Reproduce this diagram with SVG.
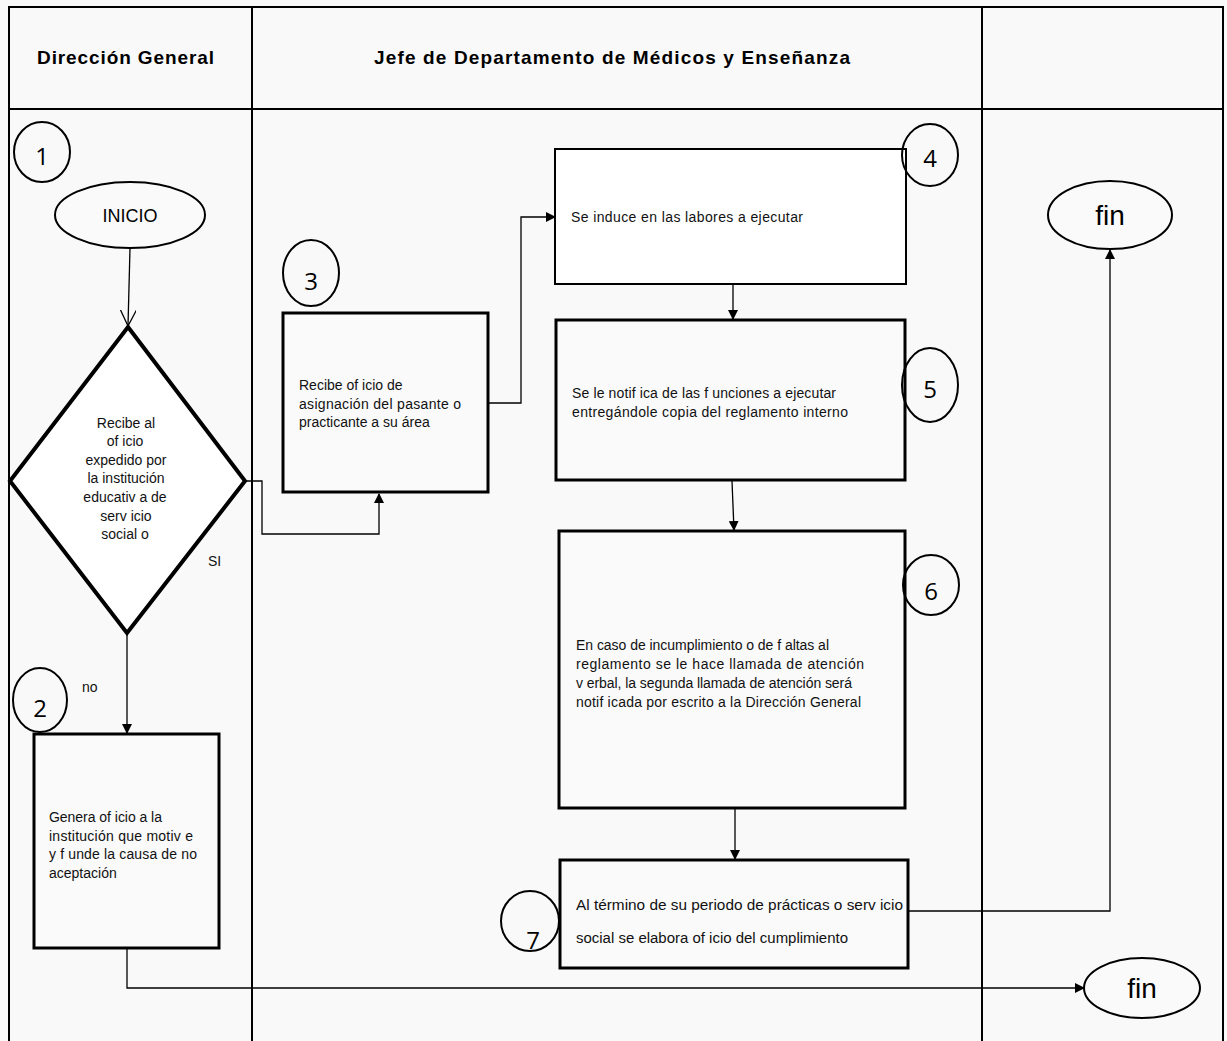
<svg xmlns="http://www.w3.org/2000/svg" width="1227" height="1041" viewBox="0 0 1227 1041">
<style>
.frame{fill:none;stroke:#000;stroke-width:2}
.box{fill:#fafafa;stroke:#000;stroke-width:3}
.box4{fill:#fff;stroke:#000;stroke-width:2}
.num{fill:none;stroke:#000;stroke-width:2}
.conn{fill:none;stroke:#000;stroke-width:1.3}
.hdr{font-family:"Liberation Sans",Arial,sans-serif;font-weight:bold;font-size:19px;fill:#000}
.t{font-family:"Liberation Sans",Arial,sans-serif;font-size:14px;fill:#111}
.n{font-family:"Open Sans","Noto Sans",sans-serif;font-size:24px;fill:#000;text-anchor:middle}
.term{font-family:"Liberation Sans",Arial,sans-serif;fill:#000;text-anchor:middle}
</style>
<defs>
<marker id="ah" markerWidth="10" markerHeight="10" refX="9" refY="5" orient="auto" markerUnits="userSpaceOnUse">
<path d="M0,0 L10,5 L0,10 Z" fill="#000"/>
</marker>
<marker id="open" markerWidth="18" markerHeight="18" refX="16" refY="8" orient="auto" markerUnits="userSpaceOnUse">
<path d="M0,0 L16,8 L0,16" fill="none" stroke="#000" stroke-width="1.3"/>
</marker>
</defs>
<rect x="0" y="0" width="1227" height="1041" fill="#f9f9f9"/>
<g id="lanes">
<path class="frame" d="M9,1041 V7 H1223 V1041 M252,7 V1041 M982,7 V1041 M9,109 H1223"/>
<text class="hdr" x="37" y="64" textLength="177" lengthAdjust="spacing">Dirección General</text>
<text class="hdr" x="374" y="64" textLength="476" lengthAdjust="spacing">Jefe de Departamento de Médicos y Enseñanza</text>
</g>
<g id="connectors">
<path class="conn" d="M130,248 L128,326" marker-end="url(#open)"/>
<path class="conn" d="M245,481 H262 V534 H379 V494" marker-end="url(#ah)"/>
<path class="conn" d="M127,633 V733" marker-end="url(#ah)"/>
<path class="conn" d="M488,403 H521 V217 H555" marker-end="url(#ah)"/>
<path class="conn" d="M733,284 V319" marker-end="url(#ah)"/>
<path class="conn" d="M732,481 L734,530" marker-end="url(#ah)"/>
<path class="conn" d="M735,808 V859" marker-end="url(#ah)"/>
<path class="conn" d="M908,911 H1110 V250" marker-end="url(#ah)"/>
<path class="conn" d="M127,948 V988 H1084" marker-end="url(#ah)"/>
<text class="t" x="208" y="566">SI</text>
<text class="t" x="82" y="692">no</text>
</g>
<g id="n1">
<ellipse class="num" cx="42" cy="152" rx="28" ry="30"/>
<text class="n" x="42" y="165">1</text>
</g>
<g id="inicio">
<ellipse cx="130" cy="215" rx="75" ry="33" fill="#fafafa" stroke="#000" stroke-width="2"/>
<text class="term" x="130" y="222" font-size="18">INICIO</text>
</g>
<g id="decision">
<polygon points="128,327 245,481 127,633 10,481" fill="#fff" stroke="#000" stroke-width="4"/>
<g class="t" text-anchor="middle">
<text x="126" y="428">Recibe al</text>
<text x="125" y="446">of icio</text>
<text x="126" y="465">expedido por</text>
<text x="126" y="483">la institución</text>
<text x="125" y="502">educativ a de</text>
<text x="126" y="521">serv icio</text>
<text x="125" y="539">social o</text>
</g>
</g>
<g id="n2">
<ellipse class="num" cx="40" cy="700" rx="27" ry="32"/>
<text class="n" x="40" y="717">2</text>
</g>
<g id="box2">
<rect class="box" x="34" y="734" width="185" height="214"/>
<text class="t" x="49" y="822" textLength="113" lengthAdjust="spacing">Genera of icio a la</text>
<text class="t" x="49" y="841" textLength="144" lengthAdjust="spacing">institución que motiv e</text>
<text class="t" x="49" y="859" textLength="148" lengthAdjust="spacing">y f unde la causa de no</text>
<text class="t" x="49" y="878">aceptación</text>
</g>
<g id="n3">
<ellipse class="num" cx="311" cy="273" rx="28" ry="33"/>
<text class="n" x="311" y="290">3</text>
</g>
<g id="box3">
<rect class="box" x="283" y="313" width="205" height="179"/>
<text class="t" x="299" y="390">Recibe of icio de</text>
<text class="t" x="299" y="409" textLength="162" lengthAdjust="spacing">asignación del pasante o</text>
<text class="t" x="299" y="427">practicante a su área</text>
</g>
<g id="box4">
<rect class="box4" x="555" y="149" width="351" height="135"/>
<text class="t" x="571" y="222" textLength="232" lengthAdjust="spacing">Se induce en las labores a ejecutar</text>
</g>
<g id="n4">
<ellipse class="num" cx="930" cy="155" rx="28" ry="31"/>
<text class="n" x="930" y="167">4</text>
</g>
<g id="box5">
<rect class="box" x="556" y="320" width="349" height="160"/>
<text class="t" x="572" y="398" textLength="264" lengthAdjust="spacing">Se le notif ica de las f unciones a ejecutar</text>
<text class="t" x="572" y="417" textLength="276" lengthAdjust="spacing">entregándole copia del reglamento interno</text>
</g>
<g id="n5">
<ellipse class="num" cx="930" cy="385" rx="28" ry="37"/>
<text class="n" x="930" y="398">5</text>
</g>
<g id="box6">
<rect class="box" x="559" y="531" width="346" height="277"/>
<text class="t" x="576" y="650" textLength="253" lengthAdjust="spacing">En caso de incumplimiento o de f altas al</text>
<text class="t" x="576" y="669" textLength="288" lengthAdjust="spacing">reglamento se le hace llamada de atención</text>
<text class="t" x="576" y="688" textLength="276" lengthAdjust="spacing">v erbal, la segunda llamada de atención será</text>
<text class="t" x="576" y="707" textLength="285" lengthAdjust="spacing">notif icada por escrito a la Dirección General</text>
</g>
<g id="n6">
<ellipse class="num" cx="931" cy="585" rx="28" ry="30"/>
<text class="n" x="931" y="600">6</text>
</g>
<g id="box7">
<rect class="box" x="560" y="860" width="348" height="108"/>
<text class="t" x="576" y="910" textLength="327" lengthAdjust="spacingAndGlyphs">Al término de su periodo de prácticas o serv icio</text>
<text class="t" x="576" y="943" textLength="272" lengthAdjust="spacingAndGlyphs">social se elabora of icio del cumplimiento</text>
</g>
<g id="n7">
<ellipse class="num" cx="530" cy="921" rx="29" ry="30"/>
<text class="n" x="533" y="949">7</text>
</g>
<g id="fin1">
<ellipse cx="1110" cy="215" rx="62" ry="34" fill="#fafafa" stroke="#000" stroke-width="2"/>
<text class="term" x="1110" y="225" font-size="28">fin</text>
</g>
<g id="fin2">
<ellipse cx="1142" cy="988" rx="58" ry="30" fill="#fafafa" stroke="#000" stroke-width="2"/>
<text class="term" x="1142" y="998" font-size="28">fin</text>
</g>
</svg>
